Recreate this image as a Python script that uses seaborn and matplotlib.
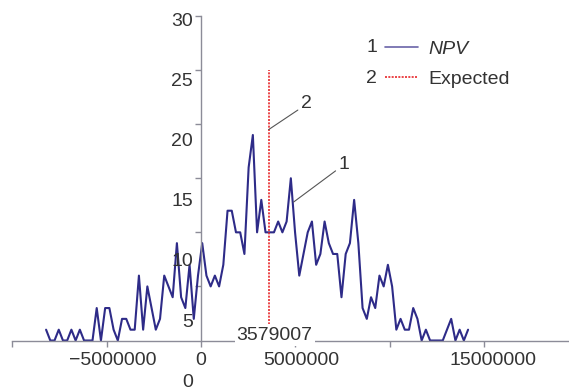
import numpy as np
import pandas as pd
import matplotlib
matplotlib.use('Agg')
import matplotlib.pyplot as plt
import matplotlib.transforms as mtransforms
import seaborn as sns

# histogram counts of simulated NPV (101 equal bins)
npv_counts = [1, 0, 0, 1, 0, 0, 1, 0, 1, 0, 0, 0, 3, 0, 3, 3, 1, 0, 2, 2, 1, 1, 6, 1, 5,
              3, 1, 2, 6, 5, 4, 9, 4, 3, 7, 2, 6, 9, 6, 5, 6, 5, 7, 12, 12, 10, 10, 8, 16, 19,
              10, 13, 10, 10, 10, 11, 10, 11, 15, 10, 6, 8, 10, 11, 7, 8, 11, 9, 8, 8, 4, 8,
              9, 13, 9, 3, 2, 4, 3, 6, 5, 7, 5, 1, 2, 1, 1, 3, 2, 0, 1, 0, 0, 0, 0, 1, 2, 0,
              1, 0, 1]
npv_first_bin = -8.22e6
npv_last_bin = 14.15e6
expected_npv = 3579007
expected_height = 25

x_ticks = [-10e6, -5e6, 0, 5e6, 10e6, 15e6]
x_tick_labels = ['', '\u22125000000', '0', '5000000', '', '15000000']
y_ticks = [5, 10, 15, 20, 25, 30]
y_tick_labels = [0, 5, 10, 15, 20, 25, 30]

npv_bins = np.linspace(npv_first_bin, npv_last_bin, len(npv_counts))
df = pd.DataFrame({'npv': npv_bins, 'count': npv_counts})

sns.set_style('white')
plt.rcParams['font.family'] = ['Liberation Sans', 'DejaVu Sans']
plt.rcParams['font.size'] = 14
txt_col = '#333333'
axis_col = '#8c8c98'

fig = plt.figure(figsize=(5.69, 3.9), dpi=100)
ax = fig.add_axes([12.5 / 569, 49.5 / 390, 556.5 / 569, 324.5 / 390])

sns.lineplot(data=df, x='npv', y='count', ax=ax, color='#2e2b88', lw=1.5,
             label='NPV', sort=False)
ax.vlines(expected_npv, 0, expected_height, colors='#e8262a',
          linestyles=(0, (1.2, 0.8)), lw=1.2, label='Expected')

ax.set_xlim(-10e6, 19.5e6)
ax.set_ylim(0, 30)
ax.set_xlabel('')
ax.set_ylabel('')
for s in ['top', 'right']:
    ax.spines[s].set_visible(False)
ax.spines['left'].set_position(('data', 0))
ax.spines['left'].set_color(axis_col)
ax.spines['bottom'].set_color(axis_col)
ax.spines['left'].set_linewidth(1)
ax.spines['bottom'].set_linewidth(1)

ax.set_xticks(x_ticks, x_tick_labels)
ax.set_yticks(y_ticks)
ax.tick_params(axis='both', direction='out', length=4, width=1, color=axis_col,
               labelcolor=txt_col, labelsize=14)
ax.tick_params(axis='y', left=True, labelleft=False)
ax.tick_params(axis='x', bottom=True, pad=4.5)

# x labels sit a little to the right of their ticks
shift = {'\u22125000000': 6, '5000000': 6, '15000000': 9}
for lab in ax.get_xticklabels():
    dx = shift.get(lab.get_text(), 0)
    lab.set_transform(lab.get_transform() +
                      mtransforms.ScaledTranslation(dx / 100, 0, fig.dpi_scale_trans))

# y labels drawn on their own (drifting) spacing
for v in y_tick_labels:
    ypix = 382.5 - 12.05 * v
    fig.text(193 / 569, 1 - ypix / 390, str(v), ha='right', va='center',
             color=txt_col, fontsize=14)

ax.text(expected_npv, 0, str(expected_npv), ha='center', va='center', color=txt_col,
        fontsize=14, zorder=5,
        transform=ax.transData + mtransforms.ScaledTranslation(6 / 100, 5.5 / 100, fig.dpi_scale_trans),
        bbox=dict(fc='white', ec='none', pad=1.5))

arrow = dict(arrowstyle='-', color='#555555', lw=0.8, shrinkA=0, shrinkB=0, relpos=(0, 0.25))
ax.annotate('2', xy=(expected_npv, 19.5), xytext=(5.3e6, 21.9), ha='left', va='center',
            color=txt_col, fontsize=14, arrowprops=arrow)
ax.annotate('1', xy=(4.9e6, 12.8), xytext=(7.3e6, 16.3), ha='left', va='center',
            color=txt_col, fontsize=14, arrowprops=arrow)

leg = ax.legend(loc='upper left', bbox_to_anchor=(385 / 569, 1 - 40 / 390),
                bbox_transform=fig.transFigure, frameon=False, borderpad=0,
                borderaxespad=0, handlelength=1.7, handletextpad=0.55,
                labelspacing=0.65, fontsize=14)
for t in leg.get_texts():
    t.set_color(txt_col)
leg.get_texts()[0].set_style('italic')
leg.legend_handles[0].set_color('#6a63a8')
leg.legend_handles[0].set_linewidth(1.2)

fig.canvas.draw()
r = fig.canvas.get_renderer()
for i, h in enumerate(leg.legend_handles):
    bb = h.get_window_extent(r)
    fig.text((bb.x0 - 8) / 569, (bb.y0 + bb.y1) / 2 / 390 - 1 / 390, str(i + 1), ha='right',
             va='center', color=txt_col, fontsize=14)

fig.savefig('out.png', dpi=100)
